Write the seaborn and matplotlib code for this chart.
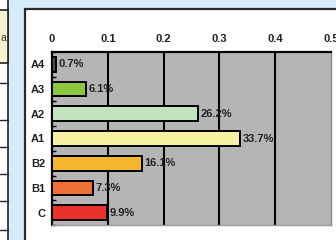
import matplotlib
matplotlib.use("Agg")
import matplotlib.pyplot as plt
import matplotlib.patches as mpatches
import matplotlib.lines as mlines
import pandas as pd
import seaborn as sns

# chart data
categories = ["A4", "A3", "A2", "A1", "B2", "B1", "C"]
shares = [0.007, 0.061, 0.262, 0.337, 0.161, 0.073, 0.099]
share_labels = ["0.7%", "6.1%", "26.2%", "33.7%", "16.1%", "7.3%", "9.9%"]
bar_colors = ["#3f5f3a", "#8dc63f", "#c3e2bf", "#f6f2a2", "#f4b52f", "#f07136", "#e8322b"]
x_ticks = [0, 0.1, 0.2, 0.3, 0.4, 0.5]
x_tick_labels = ["0", "0.1", "0.2", "0.3", "0.4", "0.5"]

df = pd.DataFrame({"category": categories, "share": shares})

sns.set_theme(style="white")
plt.rcParams["font.family"] = ["Liberation Sans Narrow", "Liberation Sans", "DejaVu Sans"]
plt.rcParams["font.weight"] = "bold"

fig = plt.figure(figsize=(3.36, 2.4), dpi=100)
fig.patch.set_facecolor("#d6ecf8")

# white panel behind the chart
panel = mpatches.Rectangle((24.5 / 336, -0.05), 1.0, (240 - 9) / 240 + 0.05,
                           transform=fig.transFigure, facecolor="white",
                           edgecolor="#2a2a2a", linewidth=1.6, zorder=0)
fig.patches.append(panel)

# fragment of the neighbouring table on the left
table_bg = mpatches.Rectangle((-0.01, -0.05), 7.5 / 336 + 0.01, 1.2,
                              transform=fig.transFigure, facecolor="white",
                              edgecolor="#222222", linewidth=1.2, zorder=0)
fig.patches.append(table_bg)
yellow = mpatches.Rectangle((-0.01, (240 - 63) / 240), 7.5 / 336 + 0.01, 53 / 240,
                            transform=fig.transFigure, facecolor="#f5f2cf",
                            edgecolor="#222222", linewidth=1.2, zorder=0)
fig.patches.append(yellow)
for yy in [83, 120, 147, 174, 201, 230]:
    fig.lines.append(mlines.Line2D([0, 7.5 / 336], [(240 - yy) / 240] * 2,
                                   transform=fig.transFigure, color="#222222", linewidth=1.0))
fig.text(3 / 336, (240 - 38) / 240, "a", fontsize=7.5, fontweight="normal",
         color="#333333", va="center", ha="center")

ax = fig.add_axes([52 / 336, 15 / 240, 279 / 336, 173 / 240])
ax.set_facecolor("#b5b5b5")
ax.set_zorder(1)

sns.barplot(data=df, x="share", y="category", hue="category", palette=bar_colors,
            order=categories, orient="h", width=0.6, edgecolor="black", saturation=1,
            linewidth=1.4, legend=False, ax=ax, zorder=3)

for i, (val, lab) in enumerate(zip(shares, share_labels)):
    ax.text(val + 0.005, i, lab, va="center", ha="left", fontsize=8,
            fontweight="bold", color="#222222", zorder=4)

ax.set_xlim(0, 0.5)
ax.set_ylim(6.5, -0.5)
ax.set_xticks(x_ticks)
ax.set_xticklabels(x_tick_labels, fontsize=8, fontweight="bold", color="#222222")
ax.xaxis.tick_top()
ax.tick_params(axis="x", length=0, pad=6)
ax.tick_params(axis="y", length=0, pad=5, labelsize=8, colors="#222222")
for lab in ax.get_yticklabels():
    lab.set_fontweight("bold")
ax.set_yticks([i + 0.5 for i in range(-1, 7)], minor=True)
ax.tick_params(axis="y", which="minor", direction="in", length=3, width=1, color="black", left=True)
ax.set_xlabel("")
ax.set_ylabel("")

for xv in x_ticks[1:-1]:
    ax.axvline(xv, color="black", linewidth=1.5, zorder=2)

ax.spines["left"].set_color("black")
ax.spines["left"].set_linewidth(1.6)
ax.spines["top"].set_color("black")
ax.spines["top"].set_linewidth(1.6)
ax.spines["right"].set_color("#888888")
ax.spines["right"].set_linewidth(1.0)
ax.spines["bottom"].set_color("#999999")
ax.spines["bottom"].set_linewidth(1.0)

fig.savefig("out.png", dpi=100, facecolor=fig.get_facecolor())
